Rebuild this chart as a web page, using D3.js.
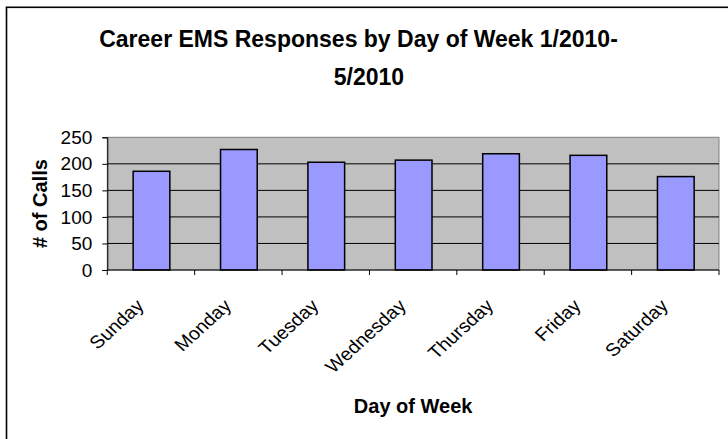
<!DOCTYPE html>
<html>
<head>
<meta charset="utf-8">
<script src="https://cdn.jsdelivr.net/npm/d3@7"></script>
<style>
  html, body { margin: 0; padding: 0; background: #fff; }
  svg { display: block; }
  text { font-family: Arial, "Liberation Sans", sans-serif; fill: #000; }
</style>
</head>
<body>
<script>
const categories = ["Sunday", "Monday", "Tuesday", "Wednesday", "Thursday", "Friday", "Saturday"];
const calls = [186, 227, 203, 207, 219, 216, 176];
const yTicks = [0, 50, 100, 150, 200, 250];
const titleLines = ["Career EMS Responses by Day of Week 1/2010-", "5/2010"];
const yTitle = "# of Calls";
const xTitle = "Day of Week";

const W = 728, H = 439;
const svg = d3.select("body").append("svg").attr("width", W).attr("height", H);

// outer chart border (only top/left visible in frame)
svg.append("rect").attr("x", 6.5).attr("y", 7.3).attr("width", 900).attr("height", 900)
  .attr("fill", "#fff").attr("stroke", "#000").attr("stroke-width", 1.6);

const plot = { left: 107.3, right: 719, top: 137.3, bottom: 270 };

const x = d3.scaleBand().domain(categories).range([plot.left, plot.right]).padding(0);
const y = d3.scaleLinear().domain([0, 250]).range([plot.bottom, plot.top]);

// plot background
svg.append("rect").attr("x", plot.left).attr("y", plot.top)
  .attr("width", plot.right - plot.left).attr("height", plot.bottom - plot.top)
  .attr("fill", "#C0C0C0").attr("stroke", "#808080").attr("stroke-width", 1);

// gridlines
svg.append("g").selectAll("line").data(yTicks.filter(d => d > 0 && d < 250)).join("line")
  .attr("x1", plot.left).attr("x2", plot.right)
  .attr("y1", d => y(d)).attr("y2", d => y(d))
  .attr("stroke", "#000").attr("stroke-width", 1);

// bars
const barFrac = 0.42;
svg.append("g").selectAll("rect").data(categories).join("rect")
  .attr("x", d => x(d) + x.bandwidth() * (1 - barFrac) / 2 + 0.5)
  .attr("width", x.bandwidth() * barFrac)
  .attr("y", (d, i) => y(calls[i]))
  .attr("height", (d, i) => y(0) - y(calls[i]))
  .attr("fill", "#9999FF").attr("stroke", "#000").attr("stroke-width", 1.5);

// y axis
const yAxis = d3.axisLeft(y).tickValues(yTicks).tickSize(5).tickPadding(10).tickFormat(d3.format("d"));
const gy = svg.append("g").attr("transform", `translate(${plot.left},0)`).call(yAxis);
gy.select(".domain").attr("stroke", "#000").attr("stroke-width", 1);
gy.selectAll(".tick line").attr("stroke", "#000");
gy.selectAll(".tick text").attr("font-size", 19).attr("font-family", "Arial, 'Liberation Sans', sans-serif").attr("fill", "#000");

// x axis line + ticks at band boundaries
const xb = svg.append("g");
xb.append("line").attr("x1", plot.left).attr("x2", plot.right)
  .attr("y1", plot.bottom).attr("y2", plot.bottom).attr("stroke", "#000").attr("stroke-width", 1.2);
const bounds = categories.map(d => x(d)).concat([x(categories[categories.length - 1]) + x.bandwidth()]);
xb.selectAll("line.t").data(bounds).join("line").attr("class", "t")
  .attr("x1", d => d).attr("x2", d => d)
  .attr("y1", plot.bottom).attr("y2", plot.bottom + 5).attr("stroke", "#000");

// x labels rotated (slightly stretched horizontally like the reference)
svg.append("g").selectAll("text").data(categories).join("text")
  .attr("transform", d => `translate(${x(d) + x.bandwidth() / 2 - 6},307) scale(1.1,1) rotate(-45)`)
  .attr("text-anchor", "end")
  .attr("font-size", 18)
  .text(d => d);

// title
const title = svg.append("text").attr("font-size", 23).attr("font-weight", "bold").attr("text-anchor", "middle");
title.append("tspan").attr("x", 358.5).attr("y", 47).text(titleLines[0]);
title.append("tspan").attr("x", 369).attr("y", 85).text(titleLines[1]);

// axis titles
svg.append("text").attr("font-size", 20).attr("font-weight", "bold").attr("text-anchor", "middle")
  .attr("transform", `translate(46.5,${(plot.top + plot.bottom) / 2}) rotate(-90)`).text(yTitle);
svg.append("text").attr("font-size", 20).attr("font-weight", "bold").attr("text-anchor", "middle")
  .attr("x", (plot.left + plot.right) / 2).attr("y", 413).text(xTitle);
</script>
</body>
</html>
